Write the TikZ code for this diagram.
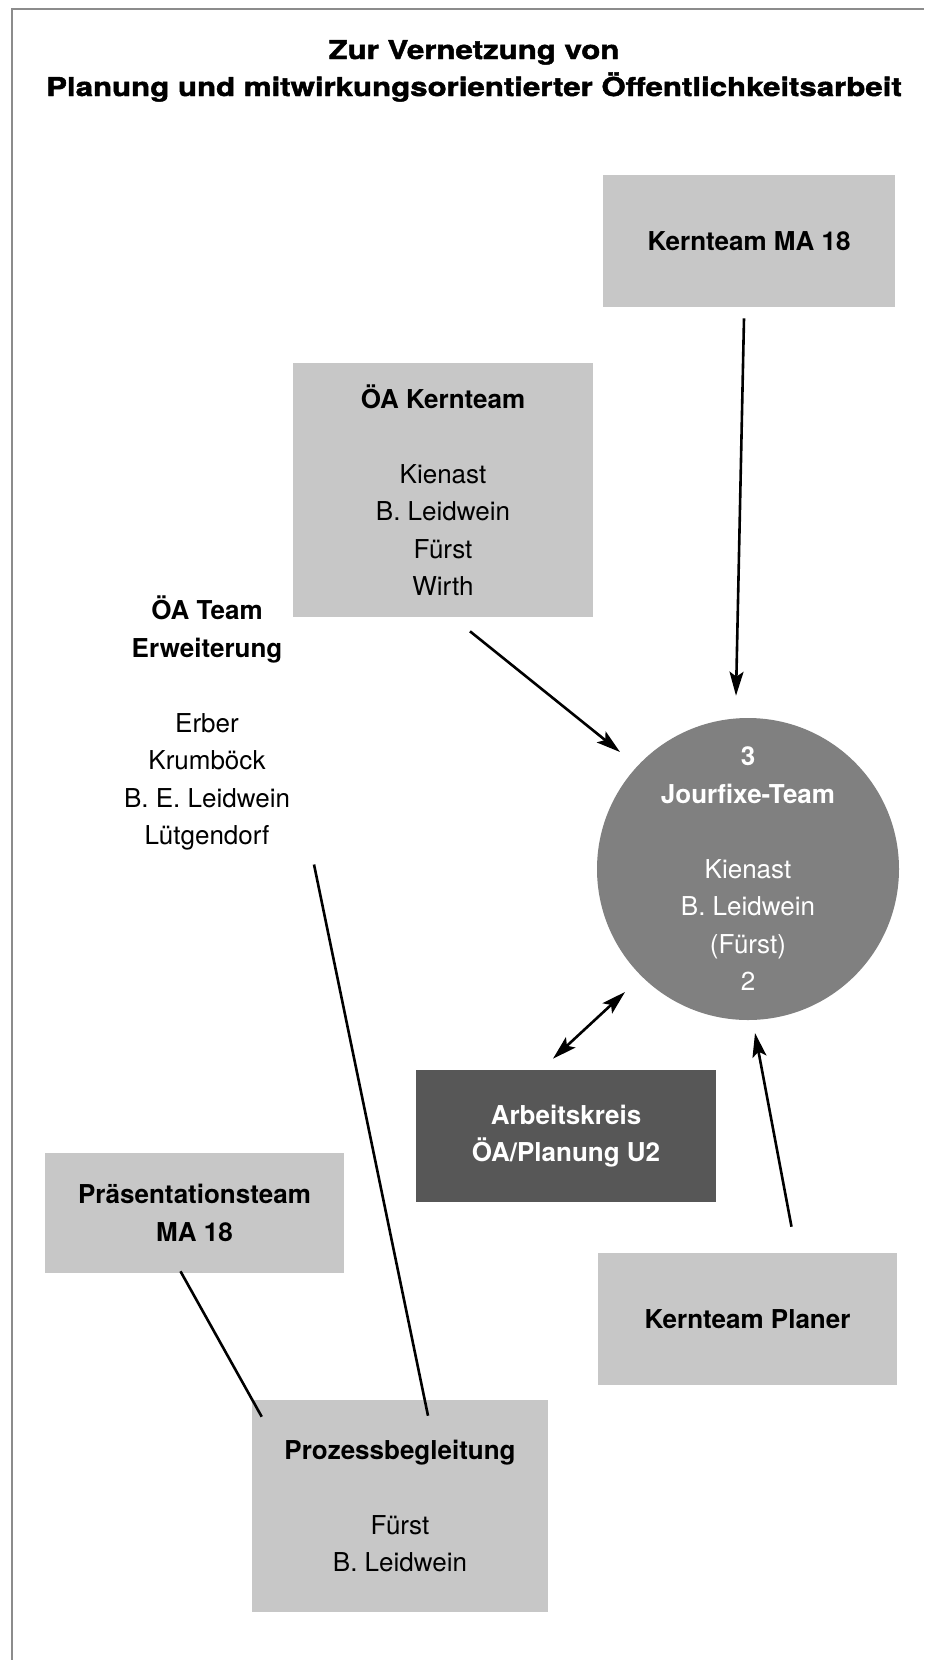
\documentclass[tikz,border=0pt]{standalone}
\usepackage{fontspec}
\setmainfont{TeX Gyre Heros}
\newfontfamily\titlefont[FakeStretch=1.2,BoldFeatures={FakeBold=1.8}]{TeX Gyre Heros}
\usetikzlibrary{calc,arrows.meta}

\definecolor{boxgray}{gray}{0.78}
\definecolor{roundgray}{gray}{0.5}
\definecolor{akgray}{gray}{0.34}
\definecolor{framegray}{gray}{0.55}

\begin{document}
\begin{tikzpicture}[
		x=1pt, y=-1pt,
		line width=2.6pt,
		>={Stealth[length=24pt,width=14pt,inset=5pt]},
		every node/.style={font=\fontsize{26}{37.5}\selectfont, align=center, inner sep=0pt},
		teambox/.style={fill=boxgray},
		darkbox/.style={fill=akgray, text=white, font=\bfseries\fontsize{26}{37.5}\selectfont},
		round/.style={circle, fill=roundgray, text=white, minimum size=302pt},
		headline/.style={font=\titlefont\bfseries\fontsize{26}{37}\selectfont, anchor=base}
	]

		% Page and frame
		\path[use as bounding box, fill=white] (0,0) rectangle (924,1660);
		\draw[framegray, line width=1.5pt] (12,1660) -- (12,9) -- (924,9);

		% Title
		\node[headline] (t1) at (474,59) {Zur Vernetzung von};
		\node[headline] (t2) at (474,96) {Planung und mitwirkungsorientierter Öffentlichkeitsarbeit};

		% Teams
		\node[teambox, minimum width=292pt, minimum height=132pt] (kma) at (749,241)
			{\textbf{Kernteam MA 18}};
		\node[teambox, minimum width=300pt, minimum height=254pt] (oak) at (443,490)
			{\textbf{ÖA Kernteam}\\[37.5pt]Kienast\\B. Leidwein\\Fürst\\Wirth};
		\node (oat) at (207,723)
			{\textbf{ÖA Team}\\\textbf{Erweiterung}\\[37.5pt]Erber\\Krumböck\\B. E. Leidwein\\Lütgendorf};
		\node[round] (jf) at (748,869)
			{\textbf{3}\\\textbf{Jourfixe-Team}\\[37.5pt]Kienast\\B. Leidwein\\(Fürst)\\2};
		\node[darkbox, minimum width=300pt, minimum height=132pt] (ak) at (566,1136)
			{Arbeitskreis\\ÖA/Planung U2};
		\node[teambox, minimum width=299pt, minimum height=120pt] (pt) at (194.5,1213)
			{\textbf{Präsentationsteam}\\\textbf{MA 18}};
		\node[teambox, minimum width=299pt, minimum height=132pt] (kp) at (747.5,1319)
			{\textbf{Kernteam Planer}};
		\node[teambox, minimum width=296pt, minimum height=212pt] (pb) at (400,1506)
			{\textbf{Prozessbegleitung}\\[37.5pt]Fürst\\B. Leidwein};

		% Connections
		\draw[->] ($(kma.south)+(-5,10)$) -- ($(jf.north)+(-12,-21)$);
		\draw[->] ($(oak.south)+(27,13)$) -- ($(jf.center)+(-128,-117)$);
		\draw[<->] ($(ak.north)+(-13,-10)$) -- ($(jf.center)+(-123,123)$);
		\draw[->] ($(kp.north)+(44,-25)$) -- ($(jf.center)+(7,164)$);
		\draw ($(oat.south)+(107,13)$) -- ($(pb.north)+(28,17)$);
		\draw ($(pt.south)+(-14,-3)$) -- ($(pb.north west)+(11,18)$);
	\end{tikzpicture}
\end{document}
